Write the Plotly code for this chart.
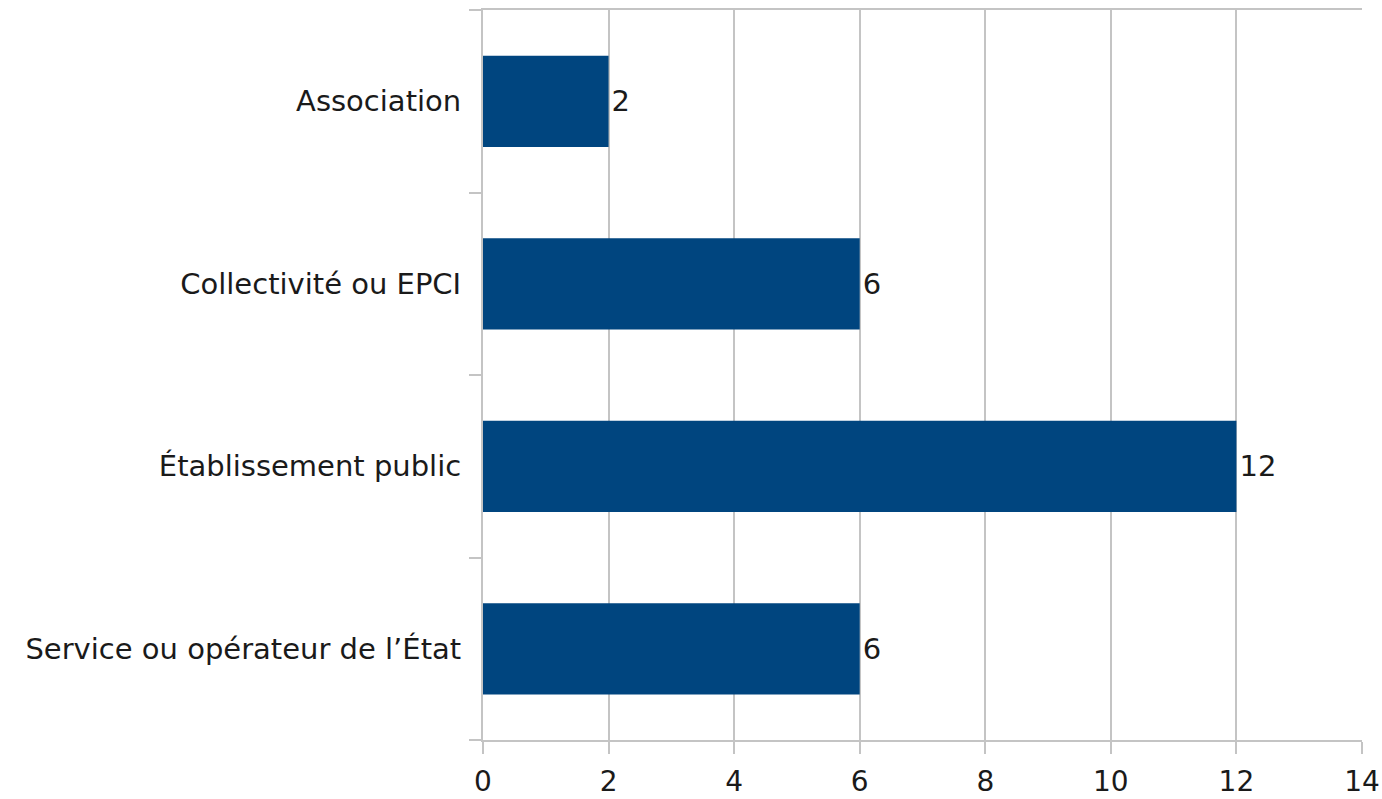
import plotly.graph_objects as go

categories = ["Association", "Collectivité ou EPCI", "Établissement public", "Service ou opérateur de l’État"]
values = [2, 6, 12, 6]
x_ticks = [0, 2, 4, 6, 8, 10, 12, 14]

bar_color = "#00457f"
grid_color = "#c4c4c4"
text_color = "#1a1a1a"
font_family = "DejaVu Sans"
fsize = 29

fig = go.Figure(go.Bar(
    y=categories,
    x=values,
    orientation="h",
    marker=dict(color=bar_color, line=dict(width=0)),
    width=0.5,
    text=[str(v) for v in values],
    textposition="outside",
    textfont=dict(size=fsize, color=text_color, family=font_family),
    cliponaxis=False,
))

fig.update_layout(
    width=1382, height=799,
    margin=dict(l=483, r=20, t=10, b=59, autoexpand=False),
    plot_bgcolor="white", paper_bgcolor="white",
    showlegend=False,
    font=dict(family=font_family, size=fsize, color=text_color),
)
fig.update_xaxes(
    range=[0, 14], tickvals=x_ticks, ticktext=[str(t) for t in x_ticks],
    showgrid=True, gridcolor=grid_color, gridwidth=2,
    showline=True, linecolor=grid_color, linewidth=2, mirror=True,
    ticks="outside", ticklen=12, tickwidth=2, tickcolor=grid_color,
    ticklabelstandoff=3, automargin=False,
    zeroline=False, tickfont=dict(size=28, color=text_color),
)
fig.update_yaxes(
    categoryorder="array", categoryarray=categories[::-1],
    range=[-0.5, 3.5], tickson="boundaries",
    showline=True, linecolor=grid_color, linewidth=2,
    ticks="outside", ticklen=12, tickwidth=2, tickcolor=grid_color,
    ticklabelstandoff=14, automargin=False,
    showgrid=False, zeroline=False, tickfont=dict(size=fsize, color=text_color),
)

fig.write_html(
    "out.html",
    config={"displayModeBar": False},
    post_script="document.body.style.margin='0';document.body.style.overflow='hidden';",
)
